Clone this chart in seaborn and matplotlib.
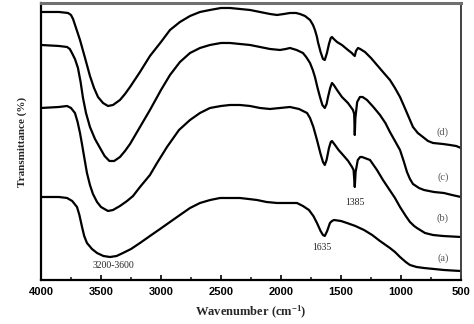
import matplotlib
matplotlib.use("Agg")
import matplotlib.pyplot as plt
from matplotlib.ticker import MultipleLocator
import seaborn as sns
import pandas as pd

# FTIR spectra, samples (a)-(d); transmittance in arbitrary offset units
wn_a = [4000, 3850, 3783, 3740, 3700, 3680, 3658, 3640, 3617, 3575, 3533, 3480,
        3425, 3370, 3317, 3250, 3175, 3092, 3008, 2925, 2842, 2758, 2675, 2590,
        2508, 2425, 2342, 2270, 2200, 2120, 2033, 1950, 1867, 1817, 1767, 1730,
        1700, 1670, 1650, 1635, 1615, 1592, 1575, 1558, 1500, 1450, 1380, 1308,
        1240, 1175, 1092, 1050, 1008, 960, 925, 870, 808, 725, 642, 575, 500]
t_a = [83, 83, 82, 79, 73, 65, 53, 44, 37, 31, 27, 24,
       23, 24, 27, 31, 37, 44, 51, 58, 65, 72, 77, 80,
       82, 82, 82, 81, 80, 78, 77, 77, 77, 74, 70, 64,
       57, 49, 45, 44, 49, 57, 59, 60, 59, 57, 54, 50,
       45, 39, 32, 28, 23, 18, 15, 13, 12, 11, 10, 9.5, 9]

wn_b = [4000, 3850, 3783, 3750, 3717, 3695, 3675, 3660, 3650, 3633, 3617, 3592,
        3567, 3533, 3500, 3442, 3400, 3342, 3283, 3233, 3175, 3092, 3033, 2950,
        2850, 2758, 2675, 2592, 2500, 2425, 2342, 2258, 2175, 2092, 2008, 1925,
        1850, 1783, 1758, 1730, 1700, 1670, 1650, 1635, 1620, 1600, 1585, 1575,
        1550, 1520, 1483, 1440, 1408, 1395, 1385, 1378, 1360, 1340, 1325, 1258,
        1200, 1150, 1100, 1050, 1008, 960, 925, 890, 867, 800, 733, 650, 500]
t_b = [172, 173, 174, 172, 167, 158, 147, 137, 130, 118, 107, 95,
       86, 78, 73, 69, 70, 74, 79, 84, 93, 105, 117, 133,
       150, 160, 167, 172, 174, 175, 175, 174, 172, 171, 172, 173,
       171, 167, 162, 153, 140, 126, 118, 115, 120, 132, 138, 139,
       135, 130, 125, 119, 113, 110, 93, 108, 120, 123, 123, 120,
       110, 100, 91, 82, 73, 64, 58, 54, 52, 47, 45, 44, 43]

wn_c = [4000, 3850, 3783, 3760, 3742, 3717, 3692, 3670, 3650, 3625, 3592, 3550,
        3508, 3470, 3430, 3390, 3342, 3300, 3258, 3175, 3092, 3000, 2925, 2842,
        2758, 2675, 2592, 2500, 2425, 2342, 2258, 2175, 2092, 2008, 1960, 1925,
        1870, 1817, 1790, 1758, 1735, 1717, 1695, 1675, 1655, 1635, 1620, 1608,
        1590, 1575, 1560, 1533, 1492, 1442, 1400, 1390, 1385, 1380, 1365, 1342,
        1320, 1283, 1230, 1175, 1130, 1092, 1050, 1008, 975, 950, 925, 900,
        850, 808, 725, 642, 575, 500]
t_c = [235, 234, 233, 231, 227, 221, 212, 198, 182, 167, 153, 141,
       132, 124, 119, 119, 123, 129, 136, 153, 170, 190, 205, 218,
       227, 232, 235, 237, 237, 236, 235, 233, 231, 230, 231, 232,
       230, 227, 223, 217, 210, 203, 192, 183, 175, 172, 176, 183,
       192, 197, 195, 190, 183, 177, 170, 166, 145, 162, 178, 183,
       183, 180, 173, 165, 157, 148, 139, 130, 118, 108, 101, 96,
       92, 90, 88, 87, 85, 83]

wn_d = [4000, 3850, 3775, 3750, 3733, 3708, 3675, 3633, 3592, 3558, 3525, 3483,
        3442, 3400, 3342, 3300, 3258, 3175, 3092, 3000, 2925, 2842, 2758, 2675,
        2592, 2500, 2425, 2342, 2258, 2175, 2092, 2033, 1975, 1925, 1875, 1842,
        1800, 1758, 1733, 1717, 1700, 1692, 1670, 1650, 1635, 1617, 1600, 1585,
        1575, 1560, 1533, 1492, 1442, 1410, 1395, 1385, 1375, 1358, 1340, 1300,
        1250, 1200, 1150, 1092, 1050, 1008, 975, 950, 925, 900, 860, 817,
        775, 733, 650, 592, 540, 500]
t_d = [268, 268, 267, 265, 261, 252, 240, 222, 204, 192, 183, 177,
       174, 175, 180, 186, 193, 208, 224, 238, 250, 258, 264, 268,
       270, 272, 272, 271, 270, 268, 266, 265, 266, 267, 267, 266,
       264, 260, 255, 250, 243, 238, 228, 221, 220, 227, 236, 242,
       243, 241, 238, 235, 230, 227, 225, 224, 229, 232, 231, 228,
       222, 215, 208, 200, 192, 183, 174, 167, 160, 153, 147, 143,
       139, 137, 136, 135, 134, 132]

sample_labels = ["(a)", "(b)", "(c)", "(d)"]
label_y = [22, 62, 103, 148]
peak_labels = ["3200-3600", "1635", "1385"]

plt.rcParams["mathtext.default"] = "regular"
sns.set_theme(style="ticks")

fig = plt.figure(figsize=(4.74, 3.24), dpi=100)
ax = fig.add_axes([0.0865, 0.1358, 0.886, 0.855])

for wn, t in [(wn_a, t_a), (wn_b, t_b), (wn_c, t_c), (wn_d, t_d)]:
    df = pd.DataFrame({"wn": wn, "t": t})
    sns.lineplot(data=df, x="wn", y="t", ax=ax, color="black", lw=1.6,
                 sort=False, estimator=None)

ax.set_xlim(4000, 500)
ax.set_ylim(0, 277)
ax.xaxis.set_major_locator(MultipleLocator(500))
ax.xaxis.set_minor_locator(MultipleLocator(250))
ax.set_yticks([])
ax.tick_params(axis="x", which="major", direction="in", length=3.5, width=1.2,
               pad=5, labelsize=8, colors="black")
ax.tick_params(axis="x", which="minor", direction="in", length=2.5, width=1.2)
for lab in ax.get_xticklabels():
    lab.set_fontweight("bold")
    lab.set_family("Liberation Sans")

for side in ["left", "bottom"]:
    ax.spines[side].set_color("black")
    ax.spines[side].set_linewidth(1.6)
ax.spines["top"].set_color("#707070")
ax.spines["top"].set_linewidth(2.2)
ax.spines["right"].set_color("#404040")
ax.spines["right"].set_linewidth(1.4)

ax.set_xlabel("Wavenumber (cm$^{-1}$)", family="Liberation Serif",
              fontsize=9, fontweight="bold", labelpad=5)
ax.set_ylabel("Transmittance (%)", family="Liberation Serif",
              fontsize=8, fontweight="bold", labelpad=10)

for lab, y in zip(sample_labels, label_y):
    ax.text(650, y, lab, family="Liberation Serif", fontsize=7.5,
            color="#555555", ha="center", va="center")

ax.text(3400, 14, peak_labels[0], family="Liberation Serif", fontsize=7,
        ha="center", va="center")
ax.text(1660, 32, peak_labels[1], family="Liberation Serif", fontsize=7,
        ha="center", va="center")
ax.text(1385, 77, peak_labels[2], family="Liberation Serif", fontsize=7,
        ha="center", va="center")

fig.savefig("out.png", dpi=100)
